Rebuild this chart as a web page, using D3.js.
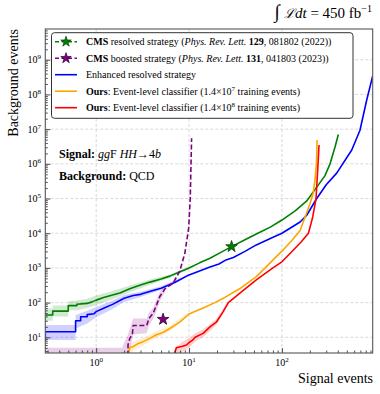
<!DOCTYPE html>
<html>
<head>
<meta charset="utf-8">
<script src="https://cdn.jsdelivr.net/npm/d3@7"></script>
<style>
  body { margin: 0; background: #fff; }
  svg { font-family: "Liberation Serif", "DejaVu Serif", serif; }
</style>
</head>
<body>
<script>
// curves: [signal events, background events]
const cmsResolved = [[0.283,44],[0.34,44],[0.34,57],[0.5,57],[0.5,82],[0.62,82],[0.62,90],[0.8,95],[0.9,105],[1,118],[1.2,140],[1.5,165],[1.8,190],[2.3,250],[3,320],[3.8,390],[5,480],[6.2,580],[8,780],[10,1000],[13,1400],[16.8,1900],[22,2800],[28.7,4100],[40,6500],[55,10000],[75,15000],[100,24000],[140,45000],[185,85000],[230,190000],[290,450000],[330,1000000],[374,3100000],[405,7000000]];
const cmsBoosted = [[0.283,3],[1.9,3],[1.9,3.4],[2.2,3.4],[2.2,6],[2.3,9.3],[2.45,12],[2.5,22],[3.5,22],[3.7,35],[4.1,49],[4.5,90],[4.84,150],[5.5,250],[6.7,360],[7.9,780],[9,2600],[9.9,14000],[10.3,100000],[10.5,1000000],[10.65,5500000]];
const enhanced = [[0.283,8],[0.283,14.5],[0.6,14.5],[0.6,30],[0.68,30],[0.68,39],[0.8,39],[0.8,45],[0.95,48],[1,55],[1.2,69],[1.5,89],[2,133],[2.5,160],[3,173],[4,220],[5,260],[7,380],[10,630],[16.8,1070],[21,1300],[25,1700],[30,2000],[40,3000],[53,4600],[75,7000],[100,10000],[157,21000],[185,33000],[237,100000],[300,250000],[389,540000],[565,2500000],[693,9300000],[819,69000000],[950,340000000]];
const ours7 = [[2.22,3.5],[2.3,5],[2.5,5.4],[2.8,6.5],[3.2,7.5],[3.7,9],[4.4,11.6],[5.3,14],[6.2,18],[8,28],[10,47],[15,75],[19,100],[23.3,133],[35,250],[53,560],[66,1000],[103,3300],[130,6500],[157,12000],[201,72000],[218,150000],[227,340000],[235,1000000],[237,1600000],[239,4900000]];
const ours8 = [[7,3.5],[7.3,5],[8.5,5.5],[9.4,6],[10,7],[11,8.4],[11.6,10],[14.2,13],[16.8,20],[19.8,28],[23.3,55],[26.5,100],[35,186],[53,450],[80,1000],[100,1500],[133,3300],[160,5500],[193,10000],[215,30000],[233,100000],[245,1000000],[251,3500000]];

// uncertainty bands: [signal events, low, high]
const cmsResolvedBand = [[0.283,30,68],[0.34,30,68],[0.34,40,82],[0.5,40,82],[0.5,60,110],[0.62,60,115],[0.8,70,130],[1,85,160],[1.5,125,215],[2.3,200,310],[3.8,330,460],[6.2,520,650],[10,930,1080]];
const cmsBoostedBand = [[0.283,1,5],[1.9,1,5],[2.0,1,7],[2.2,2,12],[2.5,12,35],[3.5,13,35],[3.7,22,52],[4.1,33,70],[4.5,60,130],[4.84,110,200],[5.5,200,310]];
const enhancedBand = [[0.283,8.4,22.6],[0.6,8.4,22.6],[0.6,18,44],[0.8,25,58],[1,38,75],[1.5,65,115],[2,105,165],[3,145,205],[5,230,295],[10,590,670]];
const ours7Band = [[2.15,2.5,5],[2.5,4,7.5],[3.2,5.8,9.5],[4.4,9.5,14.5],[6.2,15,22],[10,44,54]];
const ours8Band = [[7,2,5],[8.5,3.8,7.5],[10,5,9.5],[11.6,7.5,13],[14.2,10,17],[19.8,23,34],[26.5,88,112]];

// published working points
const starResolved = [28.7, 4100];
const starBoosted = [5.25, 33];

const xTickExps = [0, 1, 2];
const yTickExps = [1, 2, 3, 4, 5, 6, 7, 8, 9];

const width = 380;
const height = 394;

const svg = d3.select("body")
  .append("svg")
  .attr("width", width)
  .attr("height", height);

const x = d3.scaleLog().domain([0.283, 950]).range([45.3, 372.7]);
const y = d3.scaleLog().domain([3.53, 7.7e9]).range([353, 29]);

// minor tick values for a log axis
const minors = (lo, hi) => {
  let out = [];
  for (let e = lo; e <= hi; e++) {
    for (let m = 2; m <= 9; m++) out.push(m * Math.pow(10, e));
  }
  return out;
};

svg.append("clipPath").attr("id", "clip")
  .append("rect")
  .attr("x", 45.3).attr("y", 29)
  .attr("width", 327.4).attr("height", 324);

// grid
const grid = svg.append("g").attr("stroke", "#cfcfcf").attr("stroke-width", 0.8).attr("stroke-dasharray", "3,2");
xTickExps.forEach(e => {
  grid.append("line")
    .attr("x1", x(Math.pow(10, e))).attr("x2", x(Math.pow(10, e)))
    .attr("y1", 29).attr("y2", 353);
});
yTickExps.forEach(e => {
  grid.append("line")
    .attr("x1", 45.3).attr("x2", 372.7)
    .attr("y1", y(Math.pow(10, e))).attr("y2", y(Math.pow(10, e)));
});

const plot = svg.append("g").attr("clip-path", "url(#clip)");

const area = d3.area()
  .x(d => x(d[0]))
  .y0(d => y(d[1]))
  .y1(d => y(d[2]));

const line = d3.line()
  .x(d => x(d[0]))
  .y(d => y(d[1]));

const bands = [
  [cmsResolvedBand, "green"],
  [enhancedBand, "blue"],
  [cmsBoostedBand, "purple"],
  [ours7Band, "orange"],
  [ours8Band, "red"]
];
bands.forEach(b => {
  plot.append("path")
    .attr("d", area(b[0]))
    .attr("fill", b[1])
    .attr("fill-opacity", 0.18);
});

const curves = [
  [cmsResolved, "green", null],
  [enhanced, "blue", null],
  [ours7, "orange", null],
  [ours8, "red", null],
  [cmsBoosted, "purple", "5,2.5"]
];
curves.forEach(c => {
  plot.append("path")
    .attr("d", line(c[0]))
    .attr("fill", "none")
    .attr("stroke", c[1])
    .attr("stroke-width", 1.6)
    .attr("stroke-linejoin", "round")
    .attr("stroke-dasharray", c[2]);
});

const star = d3.symbol().type(d3.symbolStar);
svg.append("path")
  .attr("d", star.size(42)())
  .attr("transform", `translate(${x(starResolved[0])},${y(starResolved[1])})`)
  .attr("fill", "green").attr("stroke", "#0b3d0b").attr("stroke-width", 0.8);
svg.append("path")
  .attr("d", star.size(42)())
  .attr("transform", `translate(${x(starBoosted[0])},${y(starBoosted[1])})`)
  .attr("fill", "purple").attr("stroke", "#2a002a").attr("stroke-width", 0.8);

// ticks, pointing inwards
const xMajor = d3.axisBottom(x).tickValues(xTickExps.map(e => Math.pow(10, e))).tickSize(-5).tickFormat("");
const xMinor = d3.axisBottom(x).tickValues(minors(-1, 2).filter(v => v >= 0.283 && v <= 950)).tickSize(-2.5).tickFormat("");
const yMajor = d3.axisLeft(y).tickValues(yTickExps.map(e => Math.pow(10, e))).tickSize(-5).tickFormat("");
const yMinor = d3.axisLeft(y).tickValues(minors(0, 9).filter(v => v >= 3.53 && v <= 7.7e9)).tickSize(-2.5).tickFormat("");

[[xMajor, "translate(0,353)"], [xMinor, "translate(0,353)"], [yMajor, "translate(45.3,0)"], [yMinor, "translate(45.3,0)"]].forEach(a => {
  const g = svg.append("g").attr("transform", a[1]).call(a[0]);
  g.select(".domain").remove();
  g.selectAll(".tick line").attr("stroke", "#222").attr("stroke-width", 0.8);
});

// frame
svg.append("rect")
  .attr("x", 45.3).attr("y", 29)
  .attr("width", 327.4).attr("height", 324)
  .attr("fill", "none").attr("stroke", "#555").attr("stroke-width", 1.1);

// tick labels 10^n
xTickExps.forEach(e => {
  const t = svg.append("text")
    .attr("x", x(Math.pow(10, e))).attr("y", 366)
    .attr("text-anchor", "middle")
    .attr("font-size", 10);
  t.append("tspan").text("10");
  t.append("tspan").attr("font-size", 7).attr("dy", -4).text(e);
});
yTickExps.forEach(e => {
  const t = svg.append("text")
    .attr("x", 41).attr("y", y(Math.pow(10, e)) + 3.5)
    .attr("text-anchor", "end")
    .attr("font-size", 10);
  t.append("tspan").text("10");
  t.append("tspan").attr("font-size", 7).attr("dy", -4).text(e);
});

// axis titles
svg.append("text")
  .attr("transform", "translate(18,29) rotate(-90)")
  .attr("text-anchor", "end")
  .attr("font-size", 14)
  .text("Background events");
svg.append("text")
  .attr("x", 373).attr("y", 383)
  .attr("text-anchor", "end")
  .attr("font-size", 14)
  .text("Signal events");

// luminosity
const lumi = svg.append("text")
  .attr("x", 372).attr("y", 18)
  .attr("text-anchor", "end")
  .attr("font-size", 15);
lumi.append("tspan").attr("font-style", "italic").attr("font-size", 19).text("∫");
lumi.append("tspan").attr("font-family", "DejaVu Serif").attr("font-style", "italic").attr("font-size", 13).text(" ℒ");
lumi.append("tspan").attr("font-style", "italic").text("dt");
lumi.append("tspan").text(" = 450 fb");
lumi.append("tspan").attr("font-size", 10).attr("dy", -6).text("−1");

// annotations
const sig = svg.append("text").attr("x", 59).attr("y", 158).attr("font-size", 12);
sig.append("tspan").attr("font-weight", "bold").text("Signal:");
sig.append("tspan").attr("font-style", "italic").text(" gg");
sig.append("tspan").text("F ");
sig.append("tspan").attr("font-style", "italic").text("HH");
sig.append("tspan").text("→4");
sig.append("tspan").attr("font-style", "italic").text("b");

const bkg = svg.append("text").attr("x", 59).attr("y", 180).attr("font-size", 12);
bkg.append("tspan").attr("font-weight", "bold").text("Background:");
bkg.append("tspan").text(" QCD");

// legend
const legend = svg.append("g");
legend.append("rect")
  .attr("x", 51.5).attr("y", 32.7)
  .attr("width", 301.5).attr("height", 85.6)
  .attr("rx", 3)
  .attr("fill", "#fff").attr("stroke", "#333").attr("stroke-width", 1);

const legendRows = [
  { color: "green", dash: "4,2.5", star: true, parts: [["CMS", "b"], [" resolved strategy (", ""], ["Phys. Rev. Lett.", "i"], [" ", ""], ["129", "b"], [", 081802 (2022))", ""]] },
  { color: "purple", dash: "4,2.5", star: true, parts: [["CMS", "b"], [" boosted strategy (", ""], ["Phys. Rev. Lett.", "i"], [" ", ""], ["131", "b"], [", 041803 (2023))", ""]] },
  { color: "blue", dash: null, star: false, parts: [["Enhanced resolved strategy", ""]] },
  { color: "orange", dash: null, star: false, parts: [["Ours", "b"], [": Event-level classifier (1.4×10", ""], ["7", "sup"], [" training events)", "down"]] },
  { color: "red", dash: null, star: false, parts: [["Ours", "b"], [": Event-level classifier (1.4×10", ""], ["8", "sup"], [" training events)", "down"]] }
];

legendRows.forEach((r, i) => {
  const cy = 41.7 + i * 16.5;
  legend.append("line")
    .attr("x1", 55).attr("x2", 77)
    .attr("y1", cy).attr("y2", cy)
    .attr("stroke", r.color).attr("stroke-width", 1.6)
    .attr("stroke-dasharray", r.dash);
  if (r.star) {
    legend.append("path")
      .attr("d", star.size(34)())
      .attr("transform", `translate(66,${cy})`)
      .attr("fill", r.color)
      .attr("stroke", r.color === "green" ? "#0b3d0b" : "#2a002a")
      .attr("stroke-width", 0.7);
  }
  const t = legend.append("text").attr("x", 86).attr("y", cy + 3.4).attr("font-size", 10);
  r.parts.forEach(p => {
    const s = t.append("tspan").text(p[0]);
    if (p[1] === "b") s.attr("font-weight", "bold");
    if (p[1] === "i") s.attr("font-style", "italic");
    if (p[1] === "sup") s.attr("font-size", 7).attr("dy", -4);
    if (p[1] === "down") s.attr("dy", 4);
  });
});
</script>
</body>
</html>
